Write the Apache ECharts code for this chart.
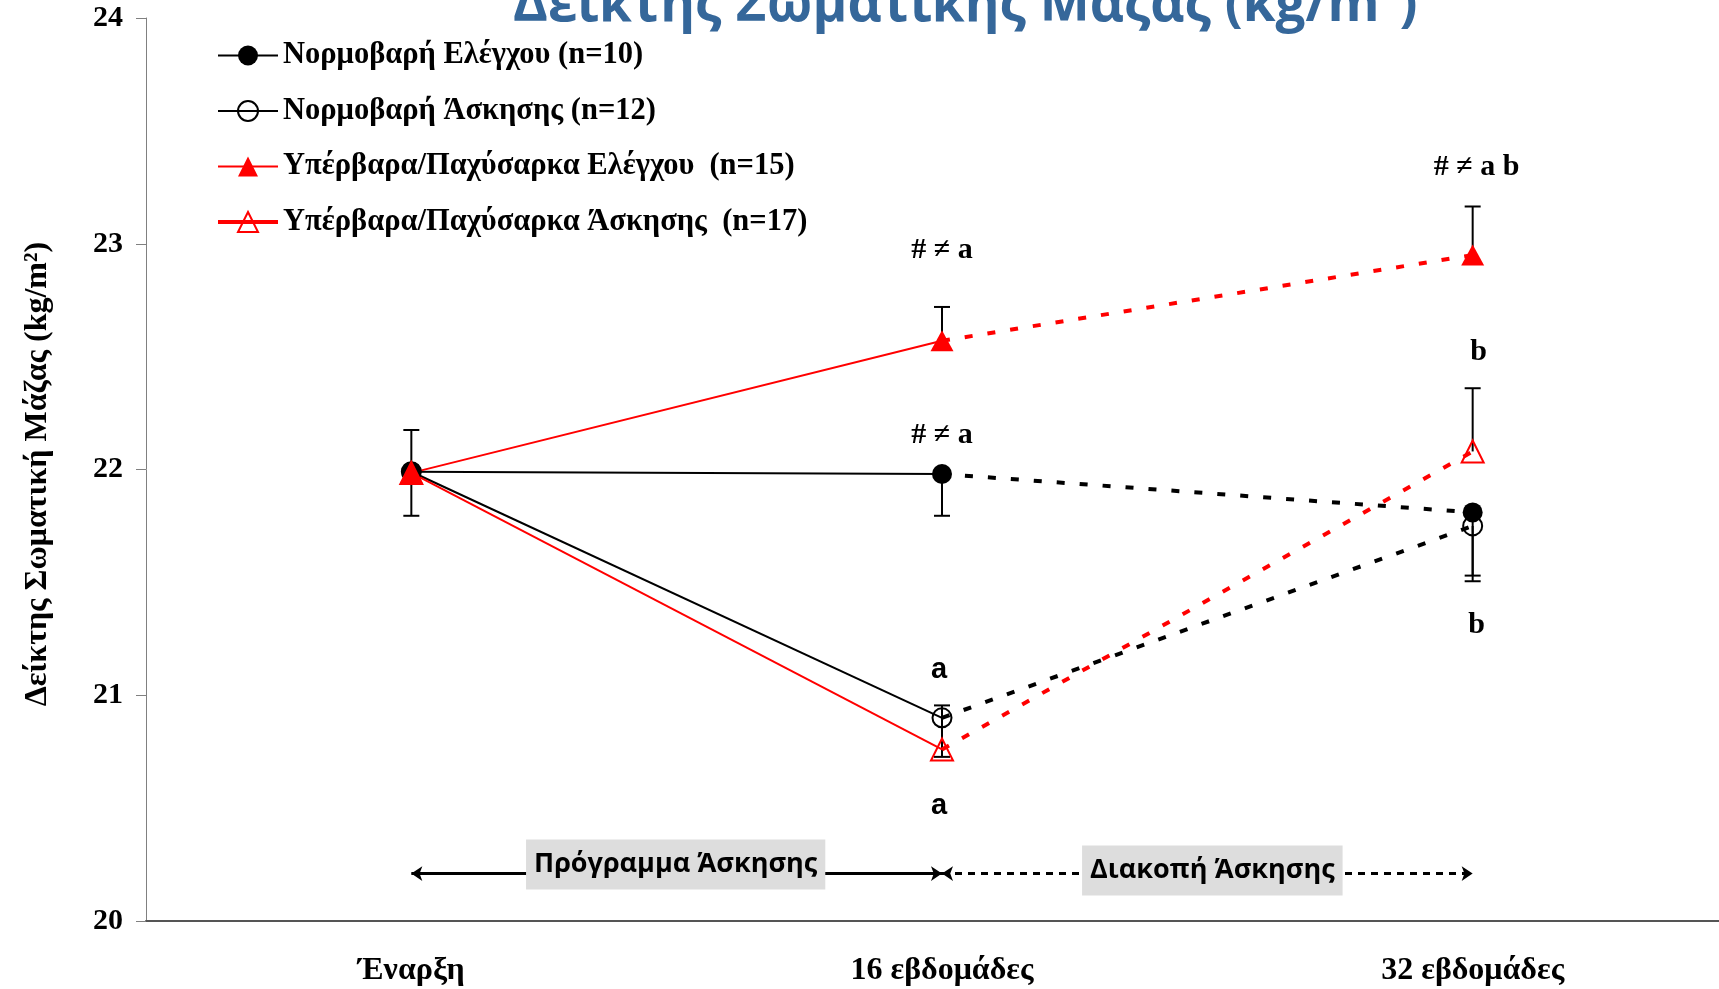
<!DOCTYPE html>
<html><head><meta charset="utf-8">
<script src="https://cdn.jsdelivr.net/npm/echarts@6/dist/echarts.min.js"></script>
<style>html,body{margin:0;padding:0;background:#fff}#c{width:1719px;height:989px}</style>
</head><body><div id="c"></div>
<script>
// ---------- data ----------
const categories = ['Έναρξη', '16 εβδομάδες', '32 εβδομάδες'];
const yTicks = [20, 21, 22, 23, 24];
const seriesNames = [
  'Νορμοβαρή Ελέγχου (n=10)',
  'Νορμοβαρή Άσκησης (n=12)',
  'Υπέρβαρα/Παχύσαρκα Ελέγχου  (n=15)',
  'Υπέρβαρα/Παχύσαρκα Άσκησης  (n=17)'
];
const normalControl  = [21.99, 21.98, 21.81];
const normalExercise = [21.99, 20.90, 21.75];
const overControl    = [21.985, 22.57, 22.95];
const overExercise   = [21.985, 20.76, 22.08];
// error bars: [category index, centre, lower end, upper end]
const errorBars = [
  [0, 21.985, 21.795, 22.175],
  [1, 21.98, 21.795, null],
  [1, 22.57, null, 22.72],
  [1, 20.90, 20.727, 20.955],
  [2, 22.95, null, 23.165],
  [2, 22.08, null, 22.36],
  [2, 21.81, 21.53, null],
  [2, 21.75, 21.505, null]
];
const annotations = [
  [1, 22.97, '# ≠ a'],
  [1, 22.15, '# ≠ a'],
  [1, 21.11, 'a'],
  [1, 20.51, 'a'],
  [2, 23.34, '# ≠ a b'],
  [2, 22.52, 'b'],
  [2, 21.31, 'b']
];
const phaseLabels = ['Πρόγραμμα Άσκησης', 'Διακοπή Άσκησης'];
const phaseY = 20.21;
const titleText = 'Δείκτης Σωματικής Μάζας (kg/m²)';
const yName = 'Δείκτης Σωματική Μάζας (kg/m²)';

// ---------- styles ----------
const SERIF = 'Liberation Serif';
const groupValues = [normalControl, normalExercise, overControl, overExercise];
const styles = [
  {color:'#000', symbol:'circle', size:20, fill:'#000', border:'#000', bw:0, legendLW:2},
  {color:'#000', symbol:'circle', size:19, fill:'rgba(0,0,0,0)', border:'#000', bw:2, legendLW:2},
  {color:'#ff0000', symbol:'triangle', size:[23,21], fill:'#ff0000', border:'#ff0000', bw:0, legendLW:2},
  {color:'#ff0000', symbol:'triangle', size:[22,22], fill:'rgba(0,0,0,0)', border:'#ff0000', bw:2, legendLW:4}
];
const phaseBoxShift = [[-1, -9], [5, -3]];
const noteShiftX = [0, 0, -3, -3, 4, 6, 4];

const series = [];
series.push({
  type:'custom', name:'err', z:1, silent:true,
  dimensions:['x','c','lo','hi'], encode:{x:0, y:1},
  data: errorBars,
  renderItem: function(params, api){
    const x = api.value(0);
    const c = api.coord([x, api.value(1)]);
    const half = 8;
    const children = [];
    [2,3].forEach(function(d){
      const v = api.value(d);
      if (v == null || isNaN(v)) return;
      const p = api.coord([x, v]);
      children.push({type:'line', shape:{x1:c[0], y1:c[1], x2:p[0], y2:p[1]}, style:{stroke:'#000', lineWidth:2}});
      children.push({type:'line', shape:{x1:p[0]-half, y1:p[1], x2:p[0]+half, y2:p[1]}, style:{stroke:'#000', lineWidth:2}});
    });
    return {type:'group', children: children};
  }
});
groupValues.forEach(function(vals, i){
  const st = styles[i];
  const itemStyle = {color: st.fill, borderColor: st.border, borderWidth: st.bw};
  series.push({
    type:'line', name: seriesNames[i], z:3, silent:true,
    data: vals.map(function(v, k){ return k < 2 ? v : null; }),
    symbol: st.symbol, symbolSize: st.size, showAllSymbol:true,
    itemStyle: itemStyle,
    lineStyle: {color: st.color, width: 2, type:'solid'}
  });
  series.push({
    type:'line', name: seriesNames[i], z:2, silent:true,
    data: vals.map(function(v, k){ return k === 0 ? null : (k === 1 ? {value:v, symbol:'none'} : v); }),
    symbol: st.symbol, symbolSize: st.size, showAllSymbol:true,
    itemStyle: itemStyle,
    lineStyle: {color: st.color, width: 4, type:[8,15], cap:'butt'}
  });
});
series.push({
  type:'line', name:'phases', data:[], silent:true, z:4,
  markLine: {
    silent:true, symbol:['arrow','arrow'], symbolSize:11,
    label:{show:false},
    lineStyle:{color:'#000', width:3},
    data: [
      [{coord:[categories[0], phaseY], lineStyle:{type:'solid', width:3, color:'#000'}}, {coord:[categories[1], phaseY]}],
      [{coord:[categories[1], phaseY], lineStyle:{type:[7,6], width:3, color:'#000'}}, {coord:[categories[2], phaseY]}]
    ]
  }
});
series.push({
  type:'custom', name:'notes', silent:true, z:5,
  dimensions:['x','y'], encode:{x:0, y:1},
  data: annotations.map(function(a){ return [a[0], a[1]]; }),
  renderItem: function(params, api){
    const p = api.coord([api.value(0), api.value(1)]);
    const t = annotations[params.dataIndex][2];
    return {type:'text', x: p[0] + noteShiftX[params.dataIndex], y: p[1],
      style:{text:t, align:'center', verticalAlign:'middle', fill:'#000',
        fontFamily: t === 'a' ? 'Liberation Sans' : SERIF, fontWeight:'bold', fontSize: t === 'a' ? 29 : 30}};
  }
});

const chart = echarts.init(document.getElementById('c'), null, {renderer:'canvas'});
chart.setOption({
  animation:false,
  backgroundColor:'#fff',
  title:{text:titleText, left:508, top:-26, textStyle:{color:'#35679A', fontFamily:'Open Sans', fontWeight:'bold', fontSize:53}},
  legend:{
    orient:'vertical', left:211, top:35, itemWidth:60, itemHeight:25, itemGap:24.5,
    textStyle:{fontFamily:SERIF, fontWeight:'bold', fontSize:30.5, color:'#000'},
    data: seriesNames.map(function(n, i){
      const st = styles[i];
      return {name:n,
        itemStyle:{color: st.fill, borderColor: st.border, borderWidth: st.bw},
        lineStyle:{color: st.color, width: st.legendLW, type:'solid'}};
    })
  },
  grid:{left:146, top:18, width:1592, height:903, containLabel:false, outerBoundsMode:'none'},
  xAxis:{
    type:'category', data:categories,
    axisLine:{lineStyle:{color:'#555', width:2}},
    axisTick:{length:13, lineStyle:{color:'#555', width:1}},
    axisLabel:{margin:34, fontFamily:SERIF, fontWeight:'bold', fontSize:32, color:'#000'}
  },
  yAxis:{
    type:'value', min:yTicks[0], max:yTicks[yTicks.length-1], interval:yTicks[1]-yTicks[0],
    name:yName, nameLocation:'middle', nameGap:92,
    nameTextStyle:{fontFamily:SERIF, fontWeight:'bold', fontSize:32, color:'#000', padding:[0, 9, 0, 0]},
    axisLine:{show:true, lineStyle:{color:'#808080', width:1}},
    axisTick:{show:true, length:10, lineStyle:{color:'#808080'}},
    axisLabel:{margin:23, fontFamily:SERIF, fontWeight:'bold', fontSize:30, color:'#000'},
    splitLine:{show:false}
  },
  series: series
});

const px = categories.map(function(c){ return chart.convertToPixel({gridIndex:0}, [c, phaseY]); });
chart.setOption({
  graphic: phaseLabels.map(function(t, i){
    return {type:'text', z:100, x:(px[i][0] + px[i+1][0]) / 2 + phaseBoxShift[i][0], y: px[i][1] + phaseBoxShift[i][1],
      style:{text:t, align:'center', verticalAlign:'middle', fontFamily:'Open Sans', fontWeight:'bold', fontSize:27,
        fill:'#000', backgroundColor:'#dddddd', padding:[9, 8], lineHeight:32}};
  })
});
</script></body></html>
